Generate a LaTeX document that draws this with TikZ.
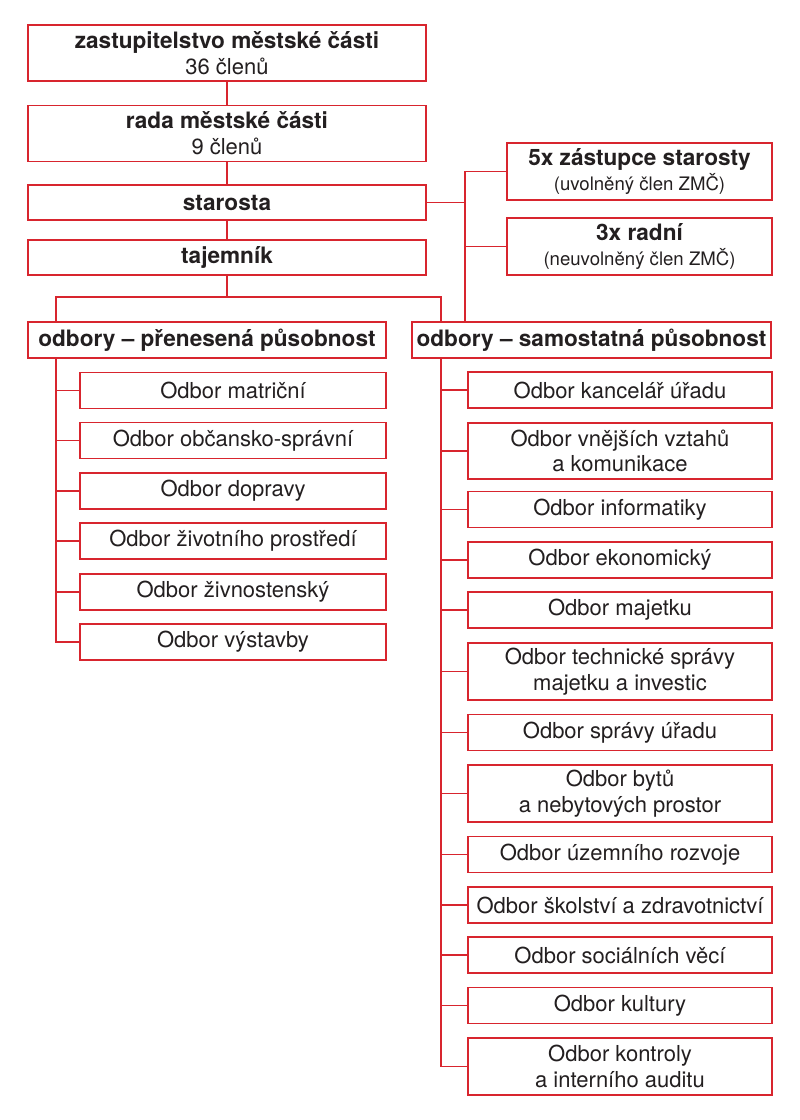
\documentclass[tikz,border=0pt]{standalone}
\usepackage{fontspec}
\setmainfont{TeX Gyre Heros}
\usepackage{xcolor}
\usetikzlibrary{positioning}
\definecolor{cervena}{HTML}{D8252E}
\definecolor{text}{HTML}{231F20}
\tikzset{
	box/.style={draw=cervena, line width=1.8pt, fill=white, rectangle, inner sep=0pt, align=center, text=text, font=\fontsize{22}{25.7}\selectfont},
	hlavni/.style={box, minimum width=398pt, font=\bfseries\fontsize{22.6}{25.7}\selectfont},
	tucny/.style={box, font=\bfseries\fontsize{22.6}{25.7}\selectfont},
	boxL/.style={box, minimum width=306pt, minimum height=36pt},
	boxR/.style={box, minimum width=304pt, minimum height=36pt},
	link/.style={draw=cervena, line width=1.8pt}
}
\newcommand{\malé}[1]{{\mdseries\fontsize{18.6}{22}\selectfont #1}}

\begin{document}
\begin{tikzpicture}[x=1pt, y=-1pt]
			\useasboundingbox (0,0) rectangle (800,1120);
			
			% vedeni
			\node[hlavni, minimum height=56pt] (zast) at (227,53) {zastupitelstvo městské části\\\mdseries\fontsize{22}{25.7}\selectfont 36 členů};
			\node[hlavni, minimum height=56pt] (rada) at (227,133.5) {rada městské části\\\mdseries\fontsize{22}{25.7}\selectfont 9 členů};
			\node[hlavni, minimum height=35pt] (star) at (227,202.5) {starosta};
			\node[hlavni, minimum height=35pt] (taj) at (227,257.5) {tajemník};
			\node[tucny, minimum width=265pt, minimum height=57pt] (zast5) at (639.5,171.5) {5x zástupce starosty\\\malé{(uvolněný člen ZMČ)}};
			\node[tucny, minimum width=265pt, minimum height=57pt] (radni) at (639.5,246.5) {3x radní\\\malé{(neuvolněný člen ZMČ)}};
			
			% odbory
			\node[tucny, minimum width=358pt, minimum height=36pt] (pren) at (207,340) {odbory -- přenesená působnost};
			\node[tucny, minimum width=359pt, minimum height=36pt] (sam) at (591.5,340) {odbory -- samostatná působnost};
			
			% prenesena pusobnost
			\node[boxL] (matr) at (233,390.5) {Odbor matriční};
			\node[boxL] (obc) at (233,440.5) {Odbor občansko-správní};
			\node[boxL] (dop) at (233,491) {Odbor dopravy};
			\node[boxL] (zivp) at (233,541) {Odbor životního prostředí};
			\node[boxL] (zivn) at (233,592) {Odbor živnostenský};
			\node[boxL] (vyst) at (233,642) {Odbor výstavby};
			
			% samostatna pusobnost
			\node[boxR] (kanc) at (620,390) {Odbor kancelář úřadu};
			\node[boxR, minimum height=56pt] (vnej) at (620,451) {Odbor vnějších vztahů\\a komunikace};
			\node[boxR] (inf) at (620,509.5) {Odbor informatiky};
			\node[boxR] (ekon) at (620,560) {Odbor ekonomický};
			\node[boxR] (maj) at (620,610) {Odbor majetku};
			\node[boxR, minimum height=57pt] (tech) at (620,671.5) {Odbor technické správy\\majetku a investic};
			\node[boxR] (sprav) at (620,732.5) {Odbor správy úřadu};
			\node[boxR, minimum height=57pt] (byty) at (620,793.5) {Odbor bytů\\a nebytových prostor};
			\node[boxR] (uzem) at (620,854.5) {Odbor územního rozvoje};
			\node[boxR] (skol) at (620,905) {Odbor školství a zdravotnictví};
			\node[boxR] (soc) at (620,955) {Odbor sociálních věcí};
			\node[boxR] (kult) at (620,1005.5) {Odbor kultury};
			\node[boxR, minimum height=57pt] (kontr) at (620,1066.5) {Odbor kontroly\\a interního auditu};
			
			% kmeny
			\coordinate (kmenL) at (56,0);
			\coordinate (kmenR) at (441,0);
			\coordinate (spoj) at (465,0);
			
			% spojnice vedeni
			\draw[link] (zast.south) -- (rada.north);
			\draw[link] (rada.south) -- (star.north);
			\draw[link] (star.south) -- (taj.north);
			\draw[link] (taj.south) -- ++(0,21) coordinate (rozc);
			\draw[link] (pren.north -| kmenL) |- (rozc) -| (sam.north -| kmenR);
			
			% starosta a zastupci
			\draw[link] (star.east) -- (star.east -| spoj);
			\draw[link] (zast5.west) -- (zast5.west -| spoj) -- (sam.north -| spoj);
			\draw[link] (radni.west) -- (radni.west -| spoj);
			
			% odbory
			\draw[link] (pren.south -| kmenL) |- (vyst.west);
			\foreach \o in {matr, obc, dop, zivp, zivn}
				\draw[link] (\o.west) -- (\o.west -| kmenL);
			\draw[link] (sam.south -| kmenR) |- (kontr.west);
			\foreach \o in {kanc, vnej, inf, ekon, maj, tech, sprav, byty, uzem, skol, soc, kult}
				\draw[link] (\o.west) -- (\o.west -| kmenR);
		\end{tikzpicture}
\end{document}
